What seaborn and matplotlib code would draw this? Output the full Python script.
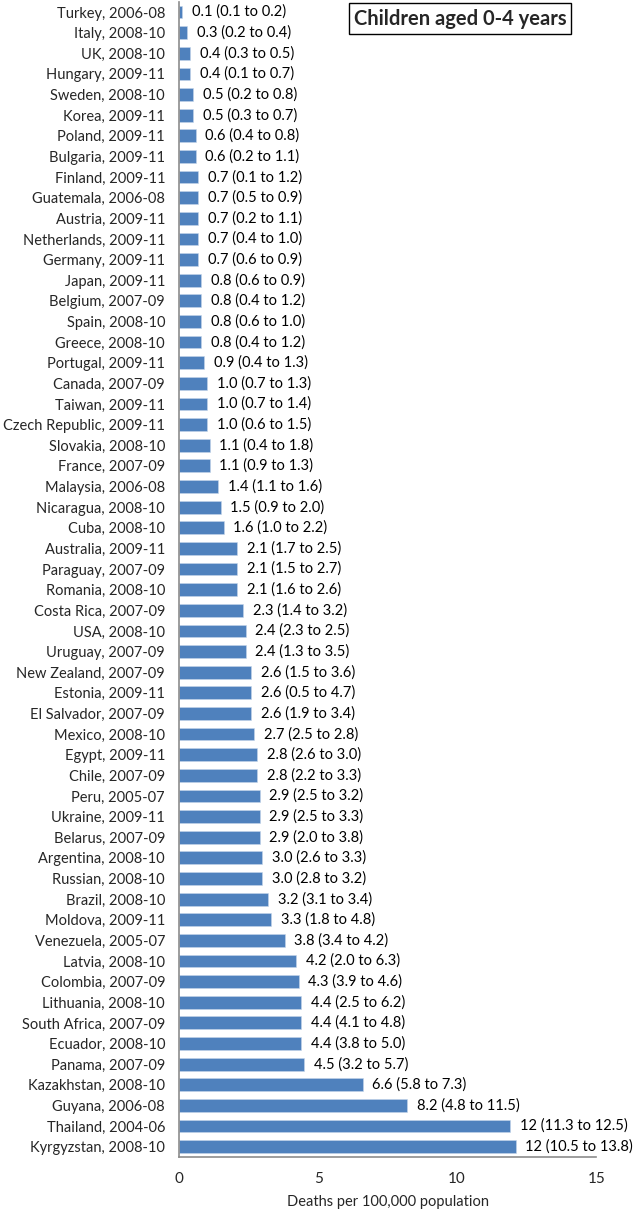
import matplotlib
matplotlib.use("Agg")
import matplotlib.pyplot as plt
import seaborn as sns
import pandas as pd

countries = [
    "Turkey, 2006-08", "Italy, 2008-10", "UK, 2008-10", "Hungary, 2009-11",
    "Sweden, 2008-10", "Korea, 2009-11", "Poland, 2009-11", "Bulgaria, 2009-11",
    "Finland, 2009-11", "Guatemala, 2006-08", "Austria, 2009-11", "Netherlands, 2009-11",
    "Germany, 2009-11", "Japan, 2009-11", "Belgium, 2007-09", "Spain, 2008-10",
    "Greece, 2008-10", "Portugal, 2009-11", "Canada, 2007-09", "Taiwan, 2009-11",
    "Czech Republic, 2009-11", "Slovakia, 2008-10", "France, 2007-09", "Malaysia, 2006-08",
    "Nicaragua, 2008-10", "Cuba, 2008-10", "Australia, 2009-11", "Paraguay, 2007-09",
    "Romania, 2008-10", "Costa Rica, 2007-09", "USA, 2008-10", "Uruguay, 2007-09",
    "New Zealand, 2007-09", "Estonia, 2009-11", "El Salvador, 2007-09", "Mexico, 2008-10",
    "Egypt, 2009-11", "Chile, 2007-09", "Peru, 2005-07", "Ukraine, 2009-11",
    "Belarus, 2007-09", "Argentina, 2008-10", "Russian, 2008-10", "Brazil, 2008-10",
    "Moldova, 2009-11", "Venezuela, 2005-07", "Latvia, 2008-10", "Colombia, 2007-09",
    "Lithuania, 2008-10", "South Africa, 2007-09", "Ecuador, 2008-10", "Panama, 2007-09",
    "Kazakhstan, 2008-10", "Guyana, 2006-08", "Thailand, 2004-06", "Kyrgyzstan, 2008-10",
]

rates = [
    0.1, 0.3, 0.4, 0.4, 0.5, 0.5, 0.6, 0.6, 0.7, 0.7, 0.7, 0.7, 0.7, 0.8,
    0.8, 0.8, 0.8, 0.9, 1.0, 1.0, 1.0, 1.1, 1.1, 1.4, 1.5, 1.6, 2.1, 2.1,
    2.1, 2.3, 2.4, 2.4, 2.6, 2.6, 2.6, 2.7, 2.8, 2.8, 2.9, 2.9, 2.9, 3.0,
    3.0, 3.2, 3.3, 3.8, 4.2, 4.3, 4.4, 4.4, 4.4, 4.5, 6.6, 8.2, 11.9, 12.1,
]

ci_low = [
    0.1, 0.2, 0.3, 0.1, 0.2, 0.3, 0.4, 0.2, 0.1, 0.5, 0.2, 0.4, 0.6, 0.6,
    0.4, 0.6, 0.4, 0.4, 0.7, 0.7, 0.6, 0.4, 0.9, 1.1, 0.9, 1.0, 1.7, 1.5,
    1.6, 1.4, 2.3, 1.3, 1.5, 0.5, 1.9, 2.5, 2.6, 2.2, 2.5, 2.5, 2.0, 2.6,
    2.8, 3.1, 1.8, 3.4, 2.0, 3.9, 2.5, 4.1, 3.8, 3.2, 5.8, 4.8, 11.3, 10.5,
]

ci_high = [
    0.2, 0.4, 0.5, 0.7, 0.8, 0.7, 0.8, 1.1, 1.2, 0.9, 1.1, 1.0, 0.9, 0.9,
    1.2, 1.0, 1.2, 1.3, 1.3, 1.4, 1.5, 1.8, 1.3, 1.6, 2.0, 2.2, 2.5, 2.7,
    2.6, 3.2, 2.5, 3.5, 3.6, 4.7, 3.4, 2.8, 3.0, 3.3, 3.2, 3.3, 3.8, 3.3,
    3.2, 3.4, 4.8, 4.2, 6.3, 4.6, 6.2, 4.8, 5.0, 5.7, 7.3, 11.5, 12.5, 13.8,
]

x_ticks = [0, 5, 10, 15]

BAR_COLOR = "#4F81BD"
AXIS_COLOR = "#8C8C8C"


def fmt_rate(v):
    return f"{v:.0f}" if v >= 10 else f"{v:.1f}"


df = pd.DataFrame({"country": countries, "rate": rates, "lo": ci_low, "hi": ci_high})

sns.set_style("white")
plt.rcParams["font.family"] = ["Lato", "DejaVu Sans"]

fig = plt.figure(figsize=(6.37, 12.11), dpi=100)
ax = fig.add_axes([0.281, 0.0446, 0.655, 0.954])

sns.barplot(data=df, x="rate", y="country", orient="h", color=BAR_COLOR,
            width=0.62, edgecolor="#C6D6EA", linewidth=0.4, saturation=1, ax=ax)

for i, row in df.iterrows():
    label = f"{fmt_rate(row['rate'])} ({row['lo']:.1f} to {row['hi']:.1f})"
    ax.annotate(label, (row["rate"], i), xytext=(7, 0), textcoords="offset points",
                va="center", ha="left", fontsize=10.5, color="black")

ax.set_xlim(0, 15)
ax.set_ylim(len(df) - 0.5, -0.5)
ax.set_xticks(x_ticks)
ax.set_xticklabels([str(t) for t in x_ticks], fontsize=11)
ax.tick_params(axis="x", direction="out", length=5, color=AXIS_COLOR, pad=6)
ax.tick_params(axis="y", length=0, labelsize=10.5, pad=10)
ax.set_ylabel("")
ax.set_xlabel("Deaths per 100,000 population", fontsize=10.5, labelpad=6)

for side in ["top", "right"]:
    ax.spines[side].set_visible(False)
for side in ["left", "bottom"]:
    ax.spines[side].set_color(AXIS_COLOR)
    ax.spines[side].set_linewidth(1.2)

fig.text(0.722, 0.9847, "Children aged 0-4 years", ha="center", va="center",
         fontsize=14.5, fontweight="bold",
         bbox=dict(boxstyle="square,pad=0.25", facecolor="white", edgecolor="black", linewidth=1))

fig.savefig("out.png", dpi=100)
